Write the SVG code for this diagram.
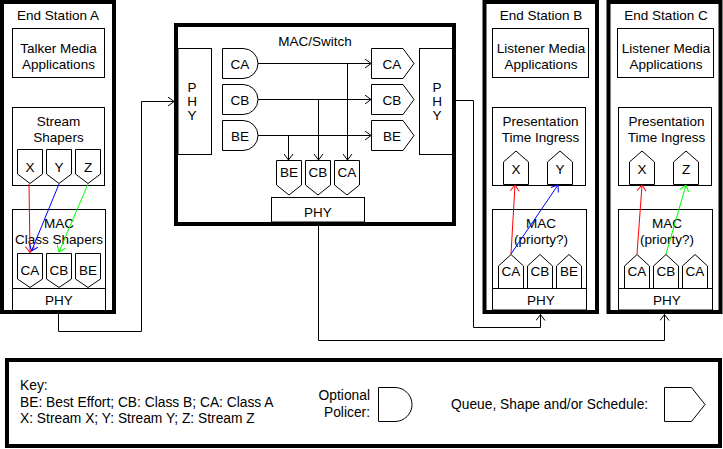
<svg xmlns="http://www.w3.org/2000/svg" width="723" height="449" viewBox="0 0 723 449">
<style>
.thick{fill:none;stroke:#000;stroke-width:4}
.box{fill:#fff;stroke:#000;stroke-width:1}
.t{font-family:"Liberation Sans",Arial,sans-serif;font-size:13.5px;text-anchor:middle;fill:#000}
.k{font-family:"Liberation Sans",Arial,sans-serif;font-size:13.8px;fill:#000}
.c{fill:none;stroke:#000;stroke-width:1}
.r{fill:none;stroke:#ff0000;stroke-width:1}
.b{fill:none;stroke:#0000ff;stroke-width:1}
.g{fill:none;stroke:#00ff00;stroke-width:1}
</style>
<defs>
<marker id="ak" viewBox="0 0 7 10" refX="6.5" refY="5" markerWidth="7" markerHeight="10" orient="auto" markerUnits="userSpaceOnUse"><path d="M0.5,0.5 L6.5,5 L0.5,9.5" fill="none" stroke="#000"/></marker>
<marker id="ar" viewBox="0 0 7 10" refX="6.5" refY="5" markerWidth="7" markerHeight="10" orient="auto" markerUnits="userSpaceOnUse"><path d="M0.5,0.5 L6.5,5 L0.5,9.5" fill="none" stroke="#ff0000"/></marker>
<marker id="ab" viewBox="0 0 7 10" refX="6.5" refY="5" markerWidth="7" markerHeight="10" orient="auto" markerUnits="userSpaceOnUse"><path d="M0.5,0.5 L6.5,5 L0.5,9.5" fill="none" stroke="#0000ff"/></marker>
<marker id="ag" viewBox="0 0 7 10" refX="6.5" refY="5" markerWidth="7" markerHeight="10" orient="auto" markerUnits="userSpaceOnUse"><path d="M0.5,0.5 L6.5,5 L0.5,9.5" fill="none" stroke="#00ff00"/></marker>
</defs>
<rect x="0" y="0" width="723" height="449" fill="#fff"/>

<!-- End Station A -->
<g id="station-a">
<rect class="thick" x="2" y="2" width="112" height="310"/>
<text class="t" x="58" y="20">End Station A</text>
<g id="a-talker">
<rect class="box" x="12.5" y="28.5" width="92" height="49"/>
<text class="t" x="58.5" y="53">Talker Media</text>
<text class="t" x="58.5" y="68.5">Applications</text>
</g>
<g id="a-stream-shapers">
<rect class="box" x="12.5" y="107.5" width="92" height="78"/>
<text class="t" x="58.5" y="126">Stream</text>
<text class="t" x="58.5" y="141.5">Shapers</text>
<path class="box" d="M17.5,149.5 H42.5 V174 L30,183.5 L17.5,174 Z"/>
<path class="box" d="M46.5,149.5 H71.5 V174 L59,183.5 L46.5,174 Z"/>
<path class="box" d="M75.5,149.5 H100.5 V174 L88,183.5 L75.5,174 Z"/>
<text class="t" x="30" y="172">X</text>
<text class="t" x="59" y="172">Y</text>
<text class="t" x="88" y="172">Z</text>
</g>
<g id="a-mac">
<rect class="box" x="12.5" y="209.5" width="93" height="79"/>
<text class="t" x="59" y="228">MAC</text>
<text class="t" x="59" y="244">Class Shapers</text>
<path class="box" d="M17.5,253.5 H42.5 V279 L30,287.5 L17.5,279 Z"/>
<path class="box" d="M46.5,253.5 H71.5 V279 L59,287.5 L46.5,279 Z"/>
<path class="box" d="M75.5,253.5 H100.5 V279 L88,287.5 L75.5,279 Z"/>
<text class="t" x="30" y="275">CA</text>
<text class="t" x="59" y="275">CB</text>
<text class="t" x="88" y="275">BE</text>
</g>
<g id="a-phy">
<rect class="box" x="12.5" y="288.5" width="93" height="22"/>
<text class="t" x="59" y="305">PHY</text>
</g>
</g>

<!-- Switch -->
<g id="switch">
<rect class="thick" x="176" y="25" width="278" height="199"/>
<text class="t" x="315" y="45.5">MAC/Switch</text>
<g id="sw-phy-left">
<rect class="box" x="178" y="48.5" width="33.5" height="106"/>
<text class="t" x="192" y="91.5">P</text>
<text class="t" x="192" y="105.5">H</text>
<text class="t" x="192" y="120">Y</text>
</g>
<g id="sw-phy-right">
<rect class="box" x="419.5" y="48.5" width="33" height="106"/>
<text class="t" x="437" y="91.5">P</text>
<text class="t" x="437" y="105.5">H</text>
<text class="t" x="437" y="120">Y</text>
</g>
<g id="sw-policers">
<path class="box" d="M222.5,48.5 H243 A15,15 0 0 1 243,78.5 H222.5 Z"/>
<path class="box" d="M222.5,84.5 H243 A15,15 0 0 1 243,114.5 H222.5 Z"/>
<path class="box" d="M222.5,120.5 H243 A15,15 0 0 1 243,150.5 H222.5 Z"/>
<text class="t" x="240" y="68.5">CA</text>
<text class="t" x="240" y="104.5">CB</text>
<text class="t" x="240" y="140.5">BE</text>
</g>
<g id="sw-queues-right">
<path class="box" d="M371.5,48.5 H403 L414,63.5 L403,78.5 H371.5 Z"/>
<path class="box" d="M371.5,84.5 H403 L414,99.5 L403,114.5 H371.5 Z"/>
<path class="box" d="M371.5,120.5 H403 L414,135.5 L403,150.5 H371.5 Z"/>
<text class="t" x="392" y="68.5">CA</text>
<text class="t" x="392" y="104.5">CB</text>
<text class="t" x="392" y="140.5">BE</text>
</g>
<g id="sw-queues-bottom">
<path class="box" d="M276.5,160.5 H301.5 V185 L289,195 L276.5,185 Z"/>
<path class="box" d="M305.5,160.5 H330.5 V185 L318,195 L305.5,185 Z"/>
<path class="box" d="M334.5,160.5 H359.5 V185 L347,195 L334.5,185 Z"/>
<text class="t" x="289" y="177">BE</text>
<text class="t" x="318" y="177">CB</text>
<text class="t" x="347" y="177">CA</text>
</g>
<g id="sw-phy-bottom">
<rect class="box" x="271.5" y="197.5" width="93" height="24.5"/>
<text class="t" x="318" y="216.5">PHY</text>
</g>
</g>

<!-- End Station B -->
<g id="station-b">
<rect class="thick" x="484.5" y="2" width="112.5" height="310"/>
<text class="t" x="541" y="20">End Station B</text>
<g id="b-listener">
<rect class="box" x="492.5" y="28.5" width="96" height="49"/>
<text class="t" x="541" y="53">Listener Media</text>
<text class="t" x="541" y="68.5">Applications</text>
</g>
<g id="b-pti">
<rect class="box" x="492.5" y="107.5" width="93" height="78"/>
<text class="t" x="540.5" y="126">Presentation</text>
<text class="t" x="540.5" y="141.5">Time Ingress</text>
<path class="box" d="M503.5,184.5 V162 L516,151 L528.5,162 V184.5 Z"/>
<path class="box" d="M547.5,184.5 V162 L560,151 L572.5,162 V184.5 Z"/>
<text class="t" x="516" y="173.5">X</text>
<text class="t" x="560" y="173.5">Y</text>
</g>
<g id="b-mac">
<rect class="box" x="492.5" y="209.5" width="94" height="79"/>
<text class="t" x="541" y="228">MAC</text>
<text class="t" x="541" y="244">(priorty?)</text>
<path class="box" d="M498.5,288.5 V266 L511,254.5 L523.5,266 V288.5 Z"/>
<path class="box" d="M527.5,288.5 V266 L540,254.5 L552.5,266 V288.5 Z"/>
<path class="box" d="M556.5,288.5 V266 L569,254.5 L581.5,266 V288.5 Z"/>
<text class="t" x="511" y="276">CA</text>
<text class="t" x="540" y="276">CB</text>
<text class="t" x="569" y="276">BE</text>
</g>
<g id="b-phy">
<rect class="box" x="492.5" y="288.5" width="94" height="21.5"/>
<text class="t" x="541" y="305">PHY</text>
</g>
</g>

<!-- End Station C -->
<g id="station-c">
<rect class="thick" x="608.5" y="2" width="112" height="310"/>
<text class="t" x="666" y="20">End Station C</text>
<g id="c-listener">
<rect class="box" x="617.5" y="28.5" width="96" height="49"/>
<text class="t" x="666" y="53">Listener Media</text>
<text class="t" x="666" y="68.5">Applications</text>
</g>
<g id="c-pti">
<rect class="box" x="618.5" y="107.5" width="93" height="78"/>
<text class="t" x="666.5" y="126">Presentation</text>
<text class="t" x="666.5" y="141.5">Time Ingress</text>
<path class="box" d="M629.5,184.5 V162 L642,151 L654.5,162 V184.5 Z"/>
<path class="box" d="M673.5,184.5 V162 L686,151 L698.5,162 V184.5 Z"/>
<text class="t" x="642" y="173.5">X</text>
<text class="t" x="686" y="173.5">Z</text>
</g>
<g id="c-mac">
<rect class="box" x="618.5" y="209.5" width="94" height="79"/>
<text class="t" x="667" y="228">MAC</text>
<text class="t" x="667" y="244">(priorty?)</text>
<path class="box" d="M624.5,288.5 V266 L637,254.5 L649.5,266 V288.5 Z"/>
<path class="box" d="M653.5,288.5 V266 L666,254.5 L678.5,266 V288.5 Z"/>
<path class="box" d="M682.5,288.5 V266 L695,254.5 L707.5,266 V288.5 Z"/>
<text class="t" x="637" y="276">CA</text>
<text class="t" x="666" y="276">CB</text>
<text class="t" x="695" y="276">CA</text>
</g>
<g id="c-phy">
<rect class="box" x="618.5" y="288.5" width="94" height="21.5"/>
<text class="t" x="667" y="305">PHY</text>
</g>
</g>

<!-- Key -->
<g id="key">
<rect class="thick" x="7" y="360" width="713" height="86"/>
<text class="k" x="20" y="390">Key:</text>
<text class="k" x="20" y="407">BE: Best Effort; CB: Class B; CA: Class A</text>
<text class="k" x="20" y="422.5">X: Stream X; Y: Stream Y; Z: Stream Z</text>
<text class="k" x="370" y="399.5" text-anchor="end">Optional</text>
<text class="k" x="370" y="417" text-anchor="end">Policer:</text>
<path class="box" d="M378.5,387.5 H395 A17,17 0 0 1 395,421.5 H378.5 Z"/>
<text class="k" x="451" y="409">Queue, Shape and/or Schedule:</text>
<path class="box" d="M664.5,387.5 H691.5 L705,404.5 L691.5,421.5 H664.5 Z"/>
</g>

<!-- Connectors -->
<g id="connectors">
<path class="c" d="M58.5,312 V331.5 H141.5 V101.5 H174" marker-end="url(#ak)"/>
<path class="c" d="M452,100.5 H473.5 V327.5 H540.5 V314.5" marker-end="url(#ak)"/>
<path class="c" d="M318.5,222 V340.5 H664.5 V314.5" marker-end="url(#ak)"/>
<path class="c" d="M258,63.5 H371" marker-end="url(#ak)"/>
<path class="c" d="M258,99.5 H371" marker-end="url(#ak)"/>
<path class="c" d="M258,135.5 H371" marker-end="url(#ak)"/>
<path class="c" d="M347.5,63.5 V160" marker-end="url(#ak)"/>
<path class="c" d="M318.5,99.5 V160" marker-end="url(#ak)"/>
<path class="c" d="M288.5,135.5 V160" marker-end="url(#ak)"/>
<path class="r" d="M29,184 L30,252.5" marker-end="url(#ar)"/>
<path class="b" d="M59,184 L31.5,251" marker-end="url(#ab)"/>
<path class="g" d="M88,184 L59,252" marker-end="url(#ag)"/>
<path class="r" d="M511,254 L515,185" marker-end="url(#ar)"/>
<path class="b" d="M511,254 L558,185" marker-end="url(#ab)"/>
<path class="r" d="M637,254 L642,185" marker-end="url(#ar)"/>
<path class="g" d="M666,254 L686,185" marker-end="url(#ag)"/>
</g>
</svg>
